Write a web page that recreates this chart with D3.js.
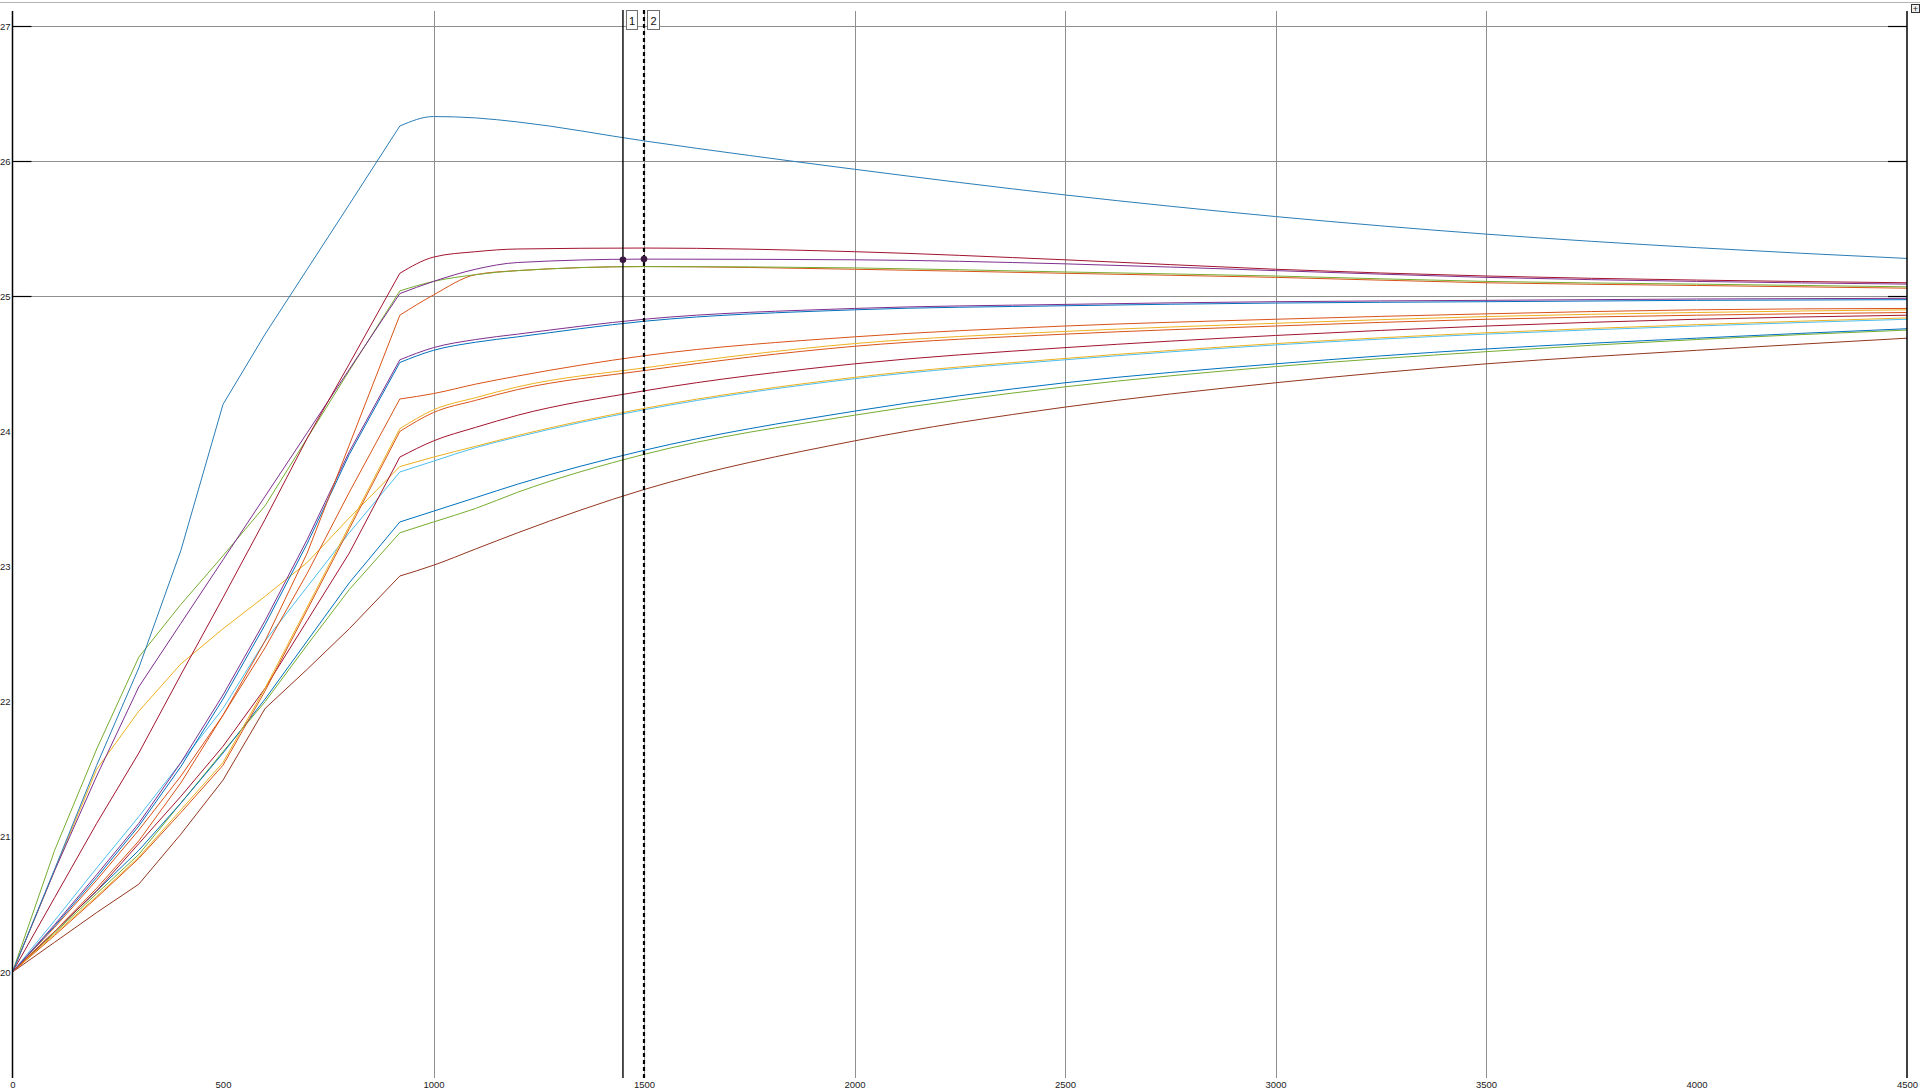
<!DOCTYPE html>
<html>
<head>
<meta charset="utf-8">
<script src="https://cdn.jsdelivr.net/npm/d3@7"></script>
<style>
body{margin:0;background:#fff;overflow:hidden}
svg{display:block}
</style>
</head>
<body>
<script>
// sample times (x) shared by every trace
const times=[0,100,200,300,400,500,600,700,800,920,1000,1100,1200,1500,2000,2500,3000,3500,4000,4500]
const knee=9 // index where the ramp ends

const t_top =[20,20.76,21.53,22.25,23.12,24.2,24.72,25.2,25.68,26.26,26.33,26.32,26.29,26.15,25.94,25.75,25.59,25.46,25.36,25.28]
const t_a   =[20,20.55,21.1,21.62,22.2,22.77,23.35,23.95,24.5,25.17,25.29,25.33,25.35,25.357,25.33,25.27,25.2,25.15,25.12,25.1]
const t_c   =[20,20.75,21.45,22.11,22.58,23.05,23.52,23.99,24.46,25.02,25.11,25.2,25.25,25.275,25.27,25.24,25.19,25.14,25.11,25.09]
const t_b   =[20,20.9,21.65,22.33,22.72,23.08,23.45,23.95,24.45,25.04,25.11,25.16,25.19,25.22,25.21,25.18,25.15,25.11,25.09,25.07]
const t_d   =[20,20.3,20.62,20.97,21.4,21.9,22.45,23.1,23.9,24.86,25.01,25.16,25.19,25.22,25.2,25.17,25.14,25.1,25.08,25.06]
const t_e1  =[20,20.35,20.72,21.1,21.55,22.05,22.6,23.2,23.85,24.53,24.62,24.68,24.72,24.83,24.91,24.94,24.96,24.97,24.98,24.985]
const t_e2  =[20,20.34,20.7,21.08,21.52,22.02,22.57,23.17,23.83,24.51,24.6,24.66,24.7,24.815,24.9,24.93,24.95,24.96,24.97,24.975]
const t_f   =[20,20.33,20.68,21.05,21.45,21.9,22.4,22.95,23.55,24.24,24.28,24.35,24.41,24.56,24.7,24.78,24.83,24.87,24.9,24.91]
const t_g1  =[20,20.28,20.56,20.85,21.2,21.55,22.1,22.7,23.3,24.02,24.16,24.25,24.33,24.47,24.65,24.74,24.8,24.85,24.88,24.9]
const t_g2  =[20,20.27,20.55,20.84,21.18,21.53,22.08,22.68,23.28,24.0,24.14,24.23,24.31,24.45,24.63,24.72,24.78,24.83,24.86,24.88]
const t_h   =[20,20.3,20.6,20.95,21.3,21.67,22.1,22.6,23.1,23.81,23.93,24.03,24.12,24.3,24.5,24.62,24.71,24.78,24.83,24.86]
const t_i   =[20,20.75,21.5,21.93,22.28,22.54,22.78,23.03,23.36,23.74,23.81,23.89,23.97,24.17,24.4,24.54,24.65,24.73,24.79,24.84]
const t_j   =[20,20.38,20.77,21.15,21.55,21.95,22.45,22.85,23.25,23.7,23.78,23.88,23.96,24.16,24.39,24.53,24.64,24.72,24.78,24.83]
const t_k   =[20,20.3,20.6,20.9,21.25,21.62,22.02,22.45,22.88,23.33,23.41,23.51,23.61,23.86,24.15,24.36,24.5,24.61,24.69,24.76]
const t_l   =[20,20.29,20.58,20.87,21.25,21.63,22.0,22.42,22.83,23.25,23.33,23.43,23.55,23.83,24.12,24.33,24.48,24.59,24.68,24.75]
const t_m   =[20,20.22,20.44,20.65,21.02,21.42,21.95,22.24,22.54,22.93,23.01,23.13,23.25,23.57,23.93,24.18,24.36,24.5,24.6,24.69]

const xticks=[0,500,1000,1500,2000,2500,3000,3500,4000,4500]
const yticks=[20,21,22,23,24,25,26,27]
const xgrid=[1000,1500,2000,2500,3000,3500]
const ygrid=[25,26,27]
const cursors=[1450,1500]

const blue="#0072BD",orange="#D95319",yellow="#EDB120",purple="#7E2F8E",green="#77AC30",cyan="#4DBEEE",darkred="#A2142F"

const traces=[
	{v:t_m,c:"#93361F"},{v:t_l,c:green},{v:t_k,c:blue},{v:t_j,c:cyan},{v:t_i,c:yellow},
	{v:t_h,c:darkred},{v:t_g2,c:orange},{v:t_g1,c:yellow},{v:t_f,c:orange},
	{v:t_e2,c:blue},{v:t_e1,c:purple},{v:t_d,c:orange},{v:t_b,c:green},
	{v:t_c,c:purple},{v:t_a,c:darkred},{v:t_top,c:"#2a7db6"}
]

const W=1920,H=1092
const top_=11,bottom_=1078
const x=d3.scaleLinear().domain([0,4500]).range([12.5,1907])
const y=d3.scaleLinear().domain([20,27]).range([972,26])

const svg=d3.select("body").append("svg")
	.attr("width",W)
	.attr("height",H)
	.style("font-family","'Liberation Sans',Arial,sans-serif")

// frame line along the very top
svg.append("line")
	.attr("x1",0).attr("x2",W).attr("y1",2.5).attr("y2",2.5)
	.attr("stroke","#b4b4b4").attr("stroke-width",1)

svg.append("g").selectAll("line").data(xgrid).enter().append("line")
	.attr("x1",d=>Math.round(x(d))+0.5).attr("x2",d=>Math.round(x(d))+0.5)
	.attr("y1",top_).attr("y2",bottom_)
	.attr("stroke","#8f8f8f").attr("stroke-width",1)

svg.append("g").selectAll("line").data(ygrid).enter().append("line")
	.attr("x1",x(0)).attr("x2",x(4500))
	.attr("y1",d=>Math.round(y(d))+0.5).attr("y2",d=>Math.round(y(d))+0.5)
	.attr("stroke","#8f8f8f").attr("stroke-width",1)

// ramp part is straight segments, the settling part is smooth
const ramp=d3.line()
	.x(d=>x(d[0]))
	.y(d=>y(d[1]))
const settle=d3.line()
	.x(d=>x(d[0]))
	.y(d=>y(d[1]))
	.curve(d3.curveMonotoneX)
const pairs=(v)=>v.map((d,i)=>[times[i],d])

svg.append("g").selectAll("path").data(traces).enter().append("path")
	.attr("d",d=>{
		const p=pairs(d.v)
		return ramp(p.slice(0,knee+1))+settle(p.slice(knee))
	})
	.attr("fill","none")
	.attr("stroke",d=>d.c)
	.attr("stroke-width",1)

// black ticks at both ends of grid rows
for(const side of [0,1]){
	svg.append("g").selectAll("line").data(ygrid).enter().append("line")
		.attr("x1",side?x(4500)-19:x(0)).attr("x2",side?x(4500):x(0)+19)
		.attr("y1",d=>Math.round(y(d))+0.5).attr("y2",d=>Math.round(y(d))+0.5)
		.attr("stroke","#000").attr("stroke-width",1.2)
}

// axes
svg.append("line").attr("x1",x(0)).attr("x2",x(0)).attr("y1",top_).attr("y2",bottom_)
	.attr("stroke","#000").attr("stroke-width",1.5)
svg.append("line").attr("x1",x(4500)).attr("x2",x(4500)).attr("y1",top_).attr("y2",bottom_)
	.attr("stroke","#000").attr("stroke-width",1.5)

const yAxis=svg.append("g")
	.attr("transform","translate("+x(0)+",0)")
	.call(d3.axisLeft(y).tickValues(yticks).tickSize(0).tickPadding(2).tickFormat(d3.format("d")))
yAxis.select(".domain").remove()
yAxis.selectAll("text").attr("font-size",9.5).attr("fill","#222").attr("font-family",null)

const xAxis=svg.append("g")
	.attr("transform","translate(0,"+1080+")")
	.call(d3.axisBottom(x).tickValues(xticks).tickSize(0).tickPadding(1).tickFormat(d3.format("d")))
xAxis.select(".domain").remove()
xAxis.selectAll("text").attr("font-size",9.5).attr("fill","#222").attr("font-family",null)

// data cursors
svg.append("line").attr("x1",x(cursors[0])).attr("x2",x(cursors[0]))
	.attr("y1",10).attr("y2",bottom_)
	.attr("stroke","#000").attr("stroke-width",1.4)
svg.append("line").attr("x1",x(cursors[1])).attr("x2",x(cursors[1]))
	.attr("y1",10).attr("y2",bottom_)
	.attr("stroke","#000").attr("stroke-width",2.2).attr("stroke-dasharray","4,3")

const interp=(arr,t)=>{
	const i=d3.bisectRight(times,t)-1
	const f=(t-times[i])/(times[i+1]-times[i])
	return arr[i]+(arr[i+1]-arr[i])*f
}
svg.append("g").selectAll("circle").data(cursors).enter().append("circle")
	.attr("cx",d=>x(d))
	.attr("cy",d=>y(interp(t_c,d)))
	.attr("r",3.3)
	.attr("fill","#3b1842")

const tags=svg.append("g").selectAll("g").data(cursors).enter().append("g")
	.attr("transform",d=>"translate("+(x(d)+3)+",10)")
tags.append("rect")
	.attr("x",0.5).attr("y",0.5).attr("width",(d,i)=>i?12:11).attr("height",19)
	.attr("fill","#fff").attr("stroke","#6e6e6e").attr("stroke-width",1)
tags.append("text")
	.attr("x",(d,i)=>i?6.5:6).attr("y",14.5)
	.attr("text-anchor","middle")
	.attr("font-size",11)
	.attr("fill","#111")
	.text((d,i)=>i+1)

// small widget in the top right corner
svg.append("rect").attr("x",1911.5).attr("y",4.5).attr("width",8).attr("height",8)
	.attr("fill","#eee").attr("stroke","#333").attr("stroke-width",1)
svg.append("text").attr("x",1915.5).attr("y",11.5).attr("text-anchor","middle")
	.attr("font-size",9).attr("fill","#222").text("+")
</script>
</body>
</html>
